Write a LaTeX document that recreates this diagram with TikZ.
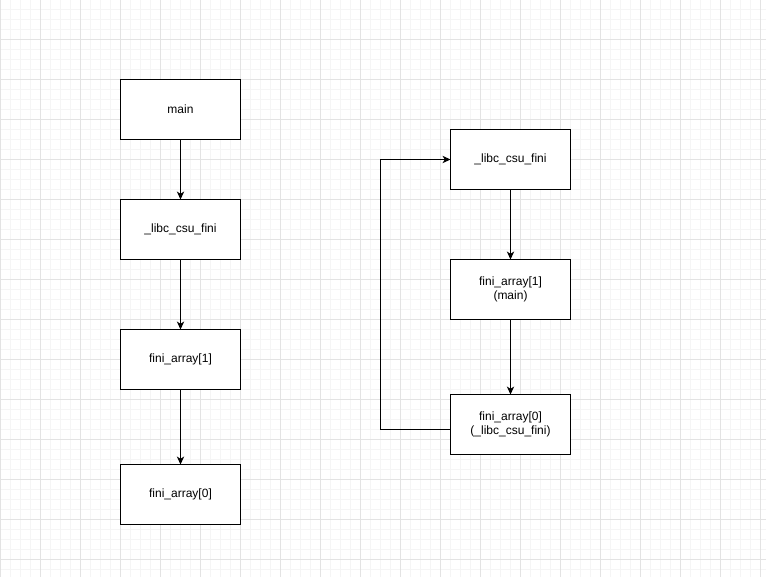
\documentclass[tikz,border=0pt]{standalone}
\usepackage{fontspec}
\setmainfont{Liberation Sans}
\usetikzlibrary{positioning, arrows.meta}

\begin{document}
\begin{tikzpicture}[x=0.75pt, y=-0.75pt,
    >={Stealth[length=6pt, width=5.5pt, inset=1.8pt]},
    line width=0.75pt,
    bloco/.style={draw, fill=white,
        minimum width=90pt,
        minimum height=45pt,
        inner sep=0pt, outer sep=0pt,
        font=\fontsize{9}{11}\selectfont}]
    \useasboundingbox (0,0) rectangle (766,577);
    \fill[white] (0,0) rectangle (766,577);

    % grade de fundo
    \foreach \i in {0,10,...,760}
        \draw[line width=0.75pt, black!4] (\i+0.5,0) -- (\i+0.5,577);
    \foreach \j in {0,10,...,570}
        \draw[line width=0.75pt, black!4] (0,\j-0.5) -- (766,\j-0.5);
    \foreach \i in {0,40,...,760}
        \draw[line width=0.75pt, black!11] (\i+0.5,0) -- (\i+0.5,577);
    \foreach \j in {40,80,...,560}
        \draw[line width=0.75pt, black!11] (0,\j-0.5) -- (766,\j-0.5);

    % coluna da esquerda
    \node [bloco] (main) at (180.5,109.5) {main};

    \node [bloco,
        below=45pt of main
    ] (libc) {\_libc\_csu\_fini};

    \node [bloco,
        below=52.5pt of libc
    ] (fini1) {fini\_array[1]};

    \node [bloco,
        below=56.25pt of fini1
    ] (fini0) {fini\_array[0]};

    % coluna da direita
    \node [bloco] (libc') at (510.5,159.5) {\_libc\_csu\_fini};

    \node [bloco,
        below=52.5pt of libc'
    ] (fini1') {
        \begin{minipage}{80pt}\centering
            fini\_array[1]\\
            (main)
        \end{minipage}
    };

    \node [bloco,
        below=56.25pt of fini1'
    ] (fini0') {
        \begin{minipage}{80pt}\centering
            fini\_array[0]\\
            (\_libc\_csu\_fini)
        \end{minipage}
    };

    % setas
    \draw[->] (main) -- (libc);
    \draw[->] (libc) -- (fini1);
    \draw[->] (fini1) -- (fini0);
    \draw[->] (libc') -- (fini1');
    \draw[->] (fini1') -- (fini0');
    \draw[->] ([yshift=-3.75pt]fini0'.west) --++ (-70,0) |- (libc'.west);
\end{tikzpicture}
\end{document}
